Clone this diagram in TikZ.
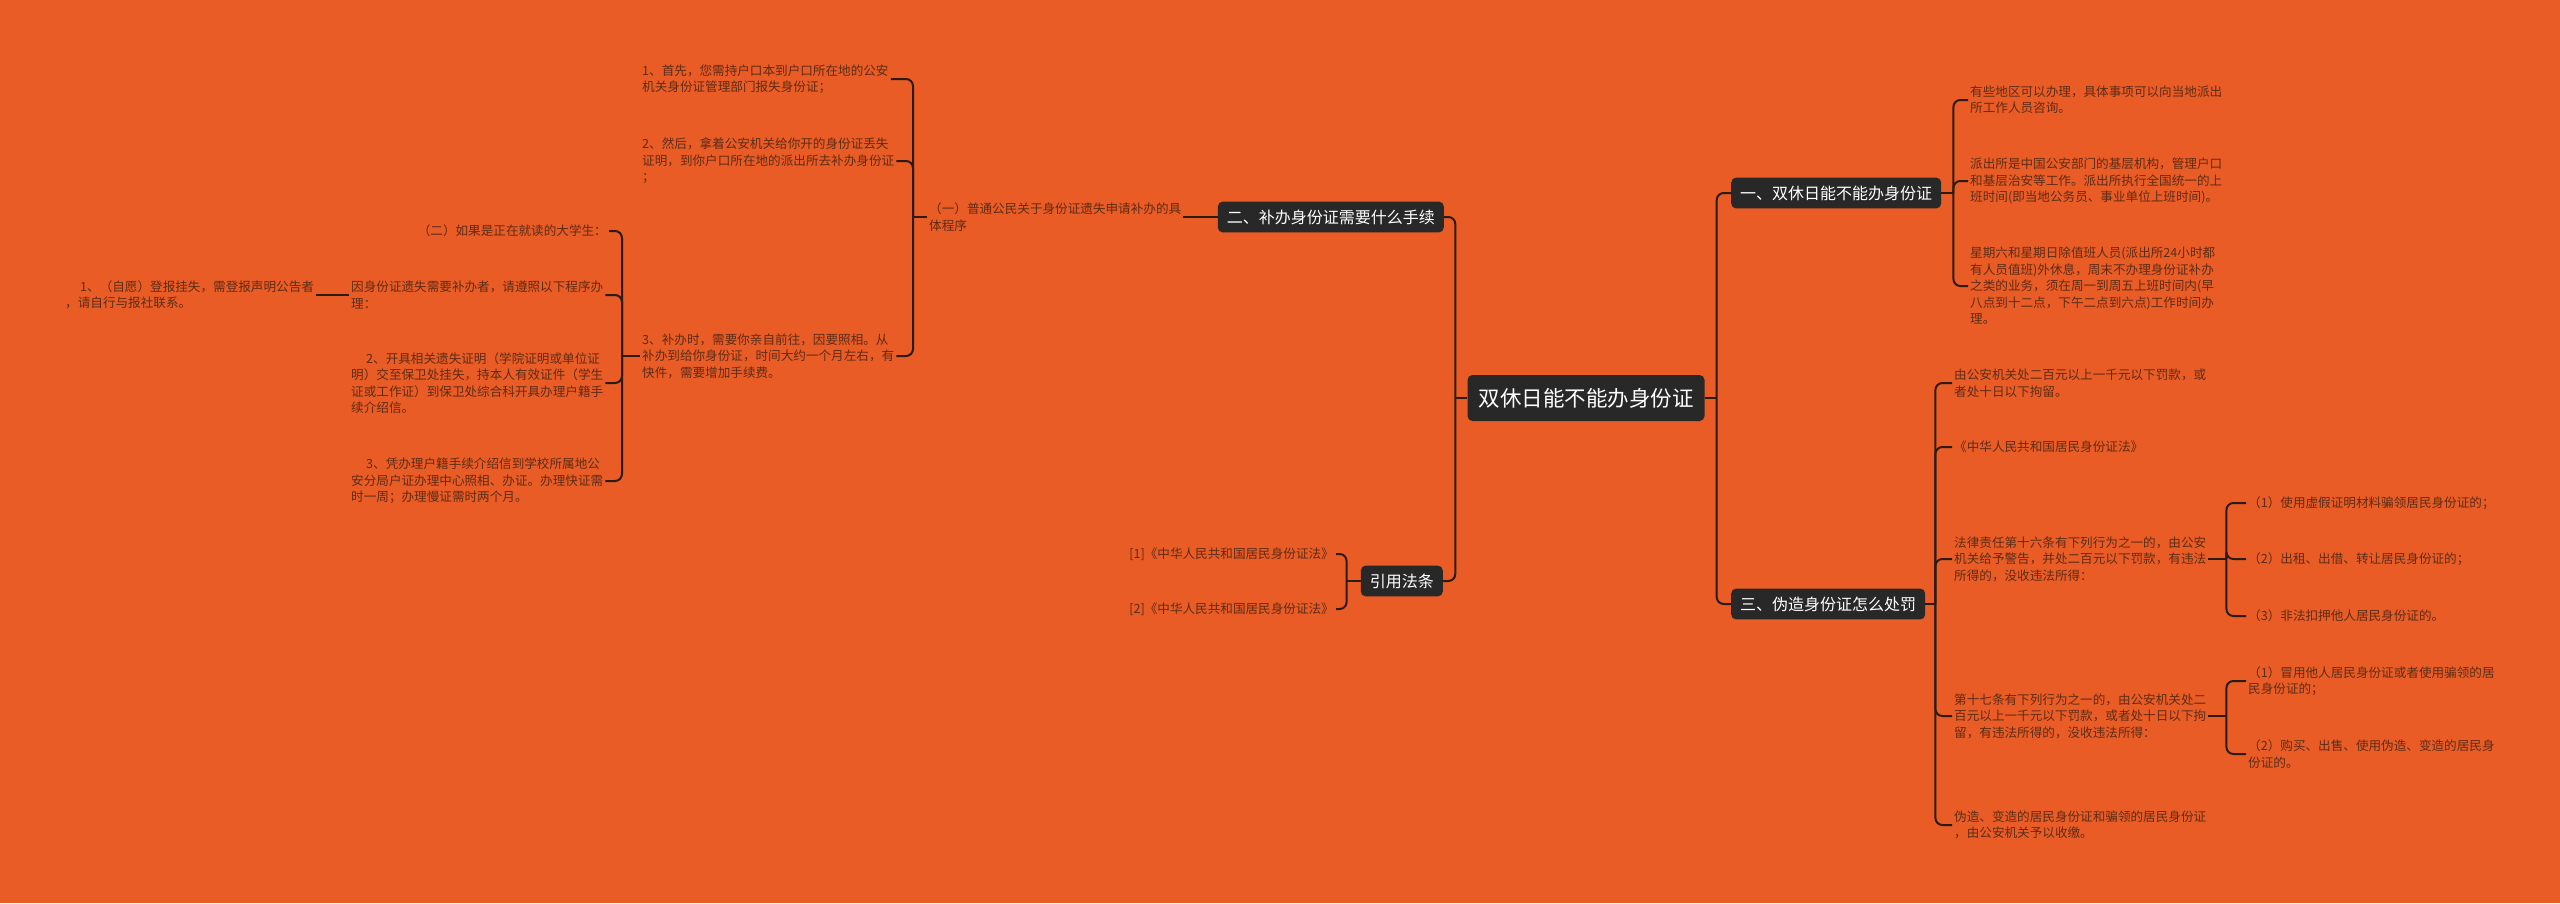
\documentclass[tikz,border=0pt]{standalone}
\usepackage{fontspec}
\newfontfamily\cjk{Noto Sans CJK SC}
\usetikzlibrary{positioning}

\definecolor{bgorange}{HTML}{E95C26}
\definecolor{txtbrown}{HTML}{5E2C16}
\definecolor{linebrown}{HTML}{2B1B14}
\definecolor{boxdark}{HTML}{282828}

\begin{document}
\begin{tikzpicture}[x=1pt, y=-1pt]
	\useasboundingbox (0,0) rectangle (2560,903);
	\fill [bgorange] (0,0) rectangle (2560,903);

	\begin{scope}
		\tikzstyle{every node}=[align=left, inner sep=2pt, text=txtbrown, font=\cjk\fontsize{12.6}{16.5}\selectfont]
		\tikzstyle{topic}=[fill=boxdark, text=white, rounded corners=5pt, inner xsep=9pt, inner ysep=8pt, font=\cjk\fontsize{16}{18}\selectfont]
		\tikzstyle{link}=[draw=linebrown, line width=2pt, rounded corners=7pt]

		% main topics
		\node [topic, inner xsep=11pt, inner ysep=13pt, font=\cjk\fontsize{21.5}{24}\selectfont] (ctr) at (1586, 398) {双休日能不能办身份证};
		\node [topic, anchor=west] (one)   at (1731, 193) {一、双休日能不能办身份证};
		\node [topic, anchor=west] (three) at (1731, 604) {三、伪造身份证怎么处罚};
		\node [topic, anchor=east] (two)   at (1444, 217) {二、补办身份证需要什么手续};
		\node [topic, anchor=east] (law)   at (1443, 581) {引用法条};

		% right side
		\node [anchor=west] (a1) at (1968, 100) {有些地区可以办理，具体事项可以向当地派出\\所工作人员咨询。};
		\node [anchor=west] (a2) at (1968, 181) {派出所是中国公安部门的基层机构，管理户口\\和基层治安等工作。派出所执行全国统一的上\\班时间(即当地公务员、事业单位上班时间)。};
		\node [anchor=west] (a3) at (1968, 286) {星期六和星期日除值班人员(派出所24小时都\\有人员值班)外休息，周末不办理身份证补办\\之类的业务，须在周一到周五上班时间内(早\\八点到十二点，下午二点到六点)工作时间办\\理。};

		\node [anchor=west] (b1) at (1952, 383) {由公安机关处二百元以上一千元以下罚款，或\\者处十日以下拘留。};
		\node [anchor=west] (b2) at (1952, 447) {《中华人民共和国居民身份证法》};
		\node [anchor=west] (b3) at (1952, 559) {法律责任第十六条有下列行为之一的，由公安\\机关给予警告，并处二百元以下罚款，有违法\\所得的，没收违法所得：};
		\node [anchor=west] (b4) at (1952, 716) {第十七条有下列行为之一的，由公安机关处二\\百元以上一千元以下罚款，或者处十日以下拘\\留，有违法所得的，没收违法所得：};
		\node [anchor=west] (b5) at (1952, 825) {伪造、变造的居民身份证和骗领的居民身份证\\，由公安机关予以收缴。};

		\node [anchor=west] (b31) at (2246, 503) {（1）使用虚假证明材料骗领居民身份证的；};
		\node [anchor=west] (b32) at (2246, 559) {（2）出租、出借、转让居民身份证的；};
		\node [anchor=west] (b33) at (2246, 616) {（3）非法扣押他人居民身份证的。};
		\node [anchor=west] (b41) at (2246, 681) {（1）冒用他人居民身份证或者使用骗领的居\\民身份证的；};
		\node [anchor=west] (b42) at (2246, 754) {（2）购买、出售、使用伪造、变造的居民身\\份证的。};

		% left side
		\node [anchor=west] (c) at (927, 217) {（一）普通公民关于身份证遗失申请补办的具\\体程序};
		\node [anchor=west] (c1) at (640, 79)  {1、首先，您需持户口本到户口所在地的公安\\机关身份证管理部门报失身份证；};
		\node [anchor=west] (c2) at (640, 161) {2、然后，拿着公安机关给你开的身份证丢失\\证明，到你户口所在地的派出所去补办身份证\\；};
		\node [anchor=west] (c3) at (640, 356) {3、补办时，需要你亲自前往，因要照相。从\\补办到给你身份证，时间大约一个月左右，有\\快件，需要增加手续费。};

		\node [anchor=east] (d1) at (609, 231) {（二）如果是正在就读的大学生：};
		\node [anchor=west] (d2) at (349, 295) {因身份证遗失需要补办者，请遵照以下程序办\\理：};
		\node [anchor=west] (d3) at (349, 383) {\hspace*{15pt}2、开具相关遗失证明（学院证明或单位证\\明）交至保卫处挂失，持本人有效证件（学生\\证或工作证）到保卫处综合科开具办理户籍手\\续介绍信。};
		\node [anchor=west] (d4) at (349, 481) {\hspace*{15pt}3、凭办理户籍手续介绍信到学校所属地公\\安分局户证办理中心照相、办证。办理快证需\\时一周；办理慢证需时两个月。};
		\node [anchor=west] (e) at (63, 295) {\hspace*{15pt}1、（自愿）登报挂失，需登报声明公告者\\，请自行与报社联系。};

		\node [anchor=east] (r1) at (1336, 554) {[1]《中华人民共和国居民身份证法》};
		\node [anchor=east] (r2) at (1336, 609) {[2]《中华人民共和国居民身份证法》};

		% junctions
		\coordinate (ctrL)   at ([xshift=-12pt]ctr.west);
		\coordinate (ctrR)   at ([xshift=12pt]ctr.east);
		\coordinate (oneJ)   at ([xshift=12pt]one.east);
		\coordinate (threeJ) at ([xshift=10pt]three.east);
		\coordinate (b3J)    at ([xshift=18pt]b3.east);
		\coordinate (b4J)    at ([xshift=18pt]b4.east);
		\coordinate (cJ)     at ([xshift=-14pt]c.west);
		\coordinate (c3J)    at ([xshift=-18pt]c3.west);
		\coordinate (lawJ)   at ([xshift=-14pt]law.west);

		\draw [link] (ctr.west) to (ctrL);
		\draw [link] (ctrL) |- (two.east);
		\draw [link] (ctrL) |- (law.east);
		\draw [link] (ctr.east) to (ctrR);
		\draw [link] (ctrR) |- (one.west);
		\draw [link] (ctrR) |- (three.west);

		\draw [link] (one.east) to (oneJ);
		\draw [link] (oneJ) |- (a1.west);
		\draw [link] (oneJ) |- (a2.west);
		\draw [link] (oneJ) |- (a3.west);

		\draw [link] (three.east) to (threeJ);
		\draw [link] (threeJ) |- (b1.west);
		\draw [link] (threeJ) |- (b2.west);
		\draw [link] (threeJ) |- (b3.west);
		\draw [link] (threeJ) |- (b4.west);
		\draw [link] (threeJ) |- (b5.west);

		\draw [link] (b3.east) to (b3J);
		\draw [link] (b3J) |- (b31.west);
		\draw [link] (b3J) |- (b32.west);
		\draw [link] (b3J) |- (b33.west);
		\draw [link] (b4.east) to (b4J);
		\draw [link] (b4J) |- (b41.west);
		\draw [link] (b4J) |- (b42.west);

		\draw [link] (two.west) to (c.east);
		\draw [link] (c.west) to (cJ);
		\draw [link] (cJ) |- (c1.east);
		\draw [link] (cJ) |- (c2.east);
		\draw [link] (cJ) |- (c3.east);

		\draw [link] (c3.west) to (c3J);
		\draw [link] (c3J) |- (d1.east);
		\draw [link] (c3J) |- (d2.east);
		\draw [link] (c3J) |- (d3.east);
		\draw [link] (c3J) |- (d4.east);
		\draw [link] (d2.west) to (e.east);

		\draw [link] (law.west) to (lawJ);
		\draw [link] (lawJ) |- (r1.east);
		\draw [link] (lawJ) |- (r2.east);
	\end{scope}
\end{tikzpicture}
\end{document}
